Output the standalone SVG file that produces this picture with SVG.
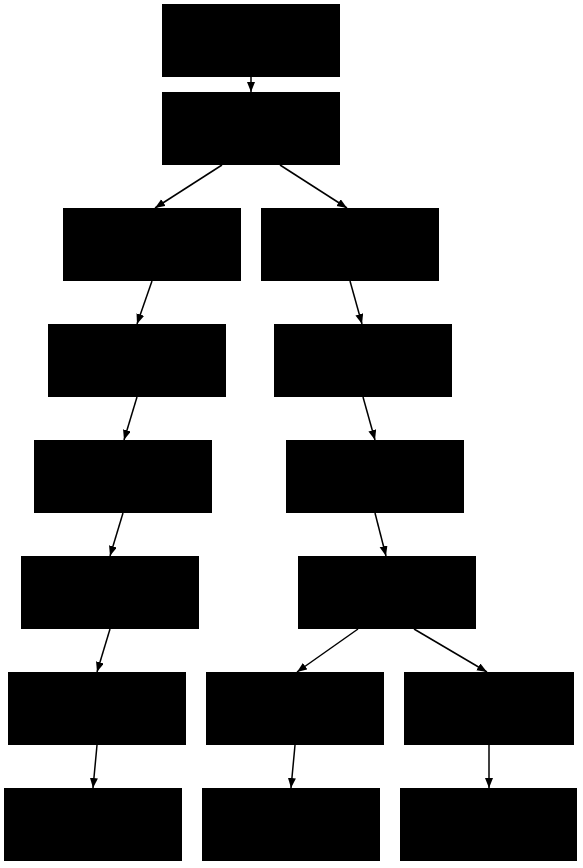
<svg xmlns="http://www.w3.org/2000/svg" width="583" height="868" viewBox="0 0 583 868">
<style>
.node{fill:#000;stroke:none}
.edge{stroke:#000;stroke-width:1.5;fill:none;marker-end:url(#ah)}
</style>
<defs>
<marker id="ah" markerUnits="userSpaceOnUse" markerWidth="11" markerHeight="9" refX="10" refY="4" orient="auto">
<path d="M0,0 L10,4 L0,8 z" fill="#000"/>
</marker>
</defs>
<rect width="583" height="868" fill="#fff"/>
<g id="edges">
<line class="edge" x1="251" y1="77" x2="251" y2="92"/>
<line class="edge" x1="222" y1="165" x2="155" y2="208"/>
<line class="edge" x1="280" y1="165" x2="347" y2="208"/>
<line class="edge" x1="152" y1="281" x2="137" y2="324"/>
<line class="edge" x1="137" y1="397" x2="124" y2="440"/>
<line class="edge" x1="123" y1="513" x2="110" y2="556"/>
<line class="edge" x1="110" y1="629" x2="97" y2="672"/>
<line class="edge" x1="97" y1="745" x2="93" y2="788"/>
<line class="edge" x1="350" y1="281" x2="362" y2="324"/>
<line class="edge" x1="363" y1="397" x2="375" y2="440"/>
<line class="edge" x1="375" y1="513" x2="386" y2="556"/>
<line class="edge" x1="358" y1="629" x2="297" y2="672"/>
<line class="edge" x1="414" y1="629" x2="487" y2="672"/>
<line class="edge" x1="295" y1="745" x2="291" y2="788"/>
<line class="edge" x1="489" y1="745" x2="489" y2="788"/>
</g>
<g id="n1"><rect class="node" x="162" y="4" width="178" height="73"/></g>
<g id="n2"><rect class="node" x="162" y="92" width="178" height="73"/></g>
<g id="l3"><rect class="node" x="63" y="208" width="178" height="73"/></g>
<g id="r3"><rect class="node" x="261" y="208" width="178" height="73"/></g>
<g id="l4"><rect class="node" x="48" y="324" width="178" height="73"/></g>
<g id="r4"><rect class="node" x="274" y="324" width="178" height="73"/></g>
<g id="l5"><rect class="node" x="34" y="440" width="178" height="73"/></g>
<g id="r5"><rect class="node" x="286" y="440" width="178" height="73"/></g>
<g id="l6"><rect class="node" x="21" y="556" width="178" height="73"/></g>
<g id="r6"><rect class="node" x="298" y="556" width="178" height="73"/></g>
<g id="l7"><rect class="node" x="8" y="672" width="178" height="73"/></g>
<g id="m7"><rect class="node" x="206" y="672" width="178" height="73"/></g>
<g id="r7"><rect class="node" x="404" y="672" width="170" height="73"/></g>
<g id="l8"><rect class="node" x="4" y="788" width="178" height="73"/></g>
<g id="m8"><rect class="node" x="202" y="788" width="178" height="73"/></g>
<g id="r8"><rect class="node" x="400" y="788" width="177" height="73"/></g>
</svg>
